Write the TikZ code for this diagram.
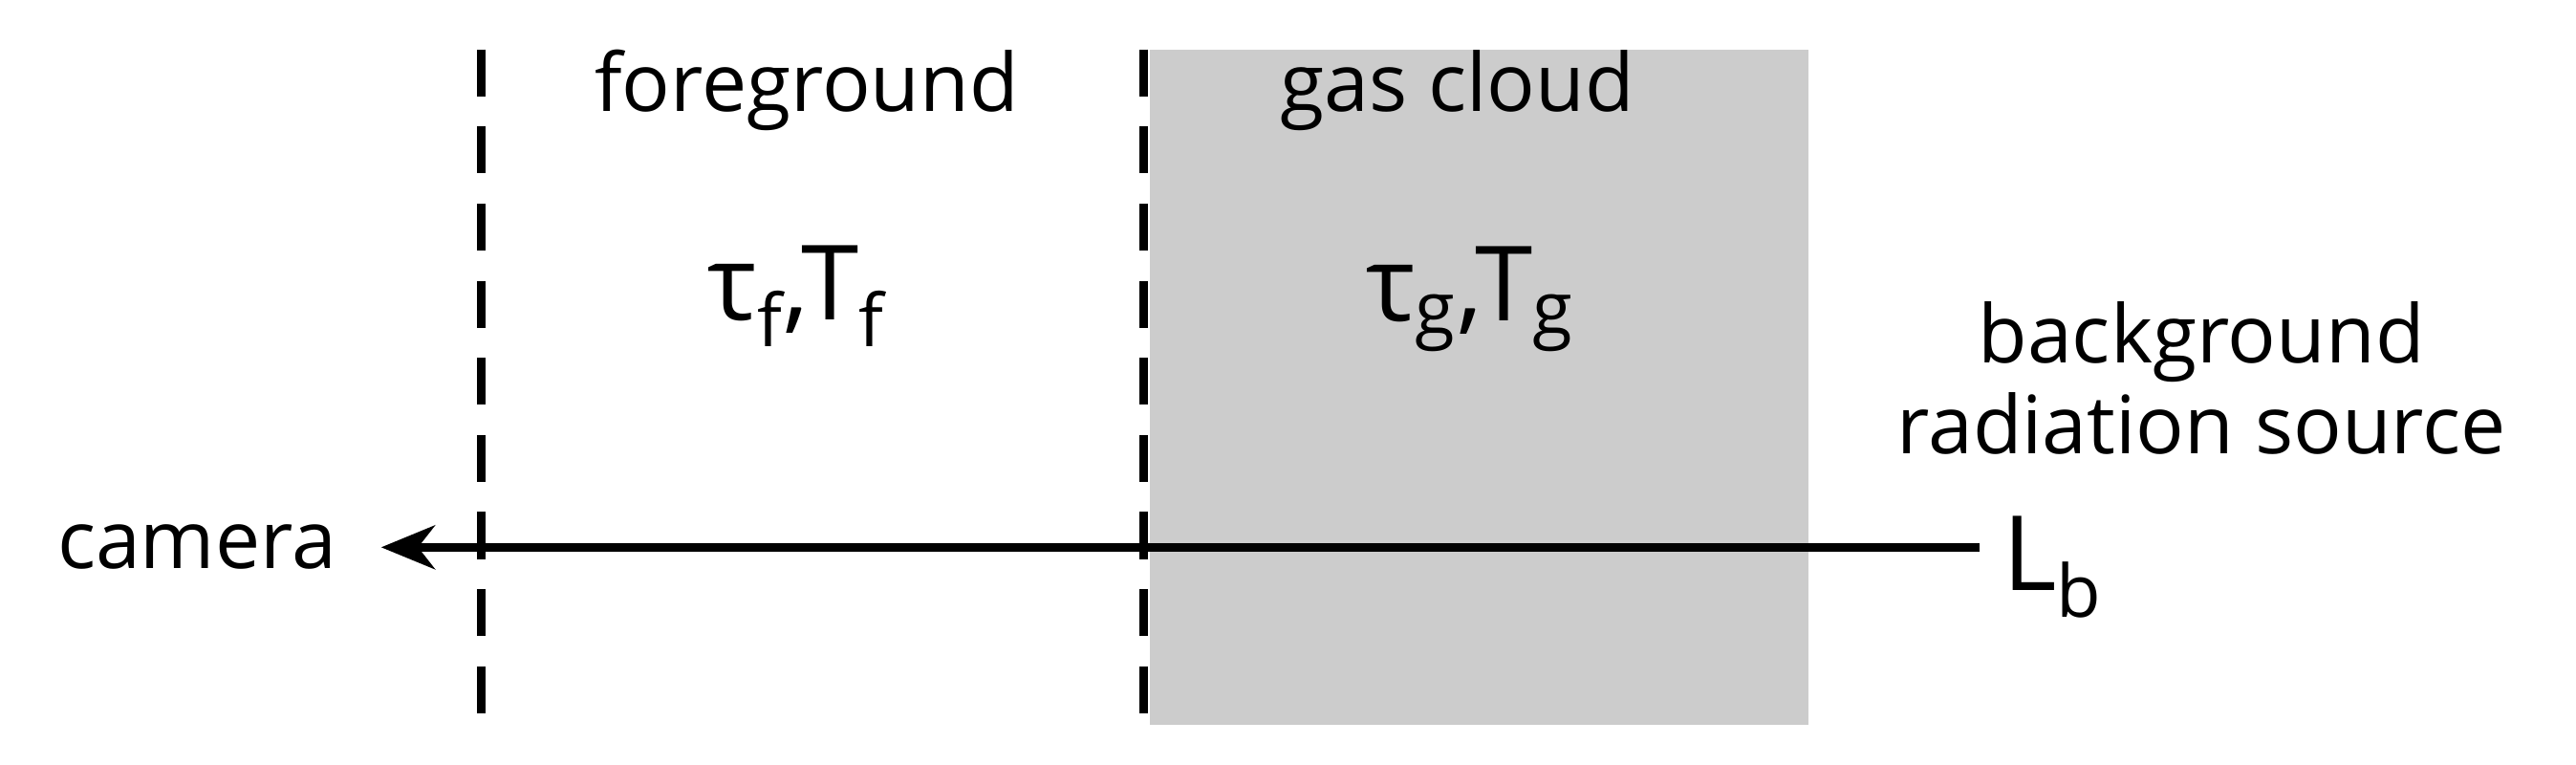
\documentclass[tikz,border=0pt]{standalone}
\usepackage{fontspec}
\setmainfont{Open Sans}
\usetikzlibrary{arrows.meta}
\begin{document}
\begin{tikzpicture}[x=0.01722cm,y=-0.01722cm,
  lbl/.style={font=\fontsize{24}{29}\selectfont, align=center},
  big/.style={font=\fontsize{31}{36}\selectfont},
  dl/.style={line width=2.6pt, dash pattern=on 14pt off 9pt}]
\useasboundingbox (0,0) rectangle (1568,465);
\fill[black!20] (700,30) rectangle (1101,441);
\draw[dl] (293,30) -- (293,441);
\draw[dl] (696,30) -- (696,441);
\coordinate (src) at (1205,333);
\coordinate (cam) at (232,333);
\draw[line width=2.6pt, -{Stealth[length=16pt,width=13pt,inset=5pt]}] (src) -- (cam);
\node[lbl] (fg) at (491,55) {foreground};
\node[lbl] (gc) at (887,55) {gas cloud};
\node[big] (tf) at (485,180) {τ\textsubscript{f},T\textsubscript{f}};
\node[big] (tg) at (895,182) {τ\textsubscript{g},T\textsubscript{g}};
\node[lbl, font=\fontsize{24}{27}\selectfont] (bg) at (1340,230) {background\\radiation source};
\node[lbl, anchor=east] (camera) at (212,333) {camera};
\node[big, anchor=west] (lb) at (1212,345) {L\textsubscript{b}};
\end{tikzpicture}
\end{document}
